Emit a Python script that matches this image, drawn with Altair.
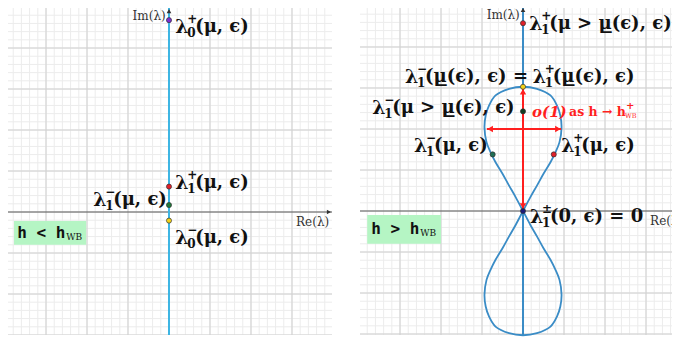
import altair as alt
import pandas as pd

# ---------------- data ----------------
# grid lines (complex plane units)
grid_minor_x = [round(-4 + 0.2 * i, 2) for i in range(41)]
grid_minor_y = [round(-3.2 + 0.2 * i, 2) for i in range(42)]
grid_major_x = [-4, -3, -2, -1, 1, 2, 3, 4]
grid_major_y = [-3, -2, -1, 1, 2, 3, 4, 5]

# left panel: eigenvalues on the imaginary axis (h < h_WB)
left_pt_y = [4.68, 0.62, 0.17, -0.21]
left_pt_color = ["#7b2fd0", "#e0202a", "#1f7a3a", "#f2d21a"]

left_lab_x = [0.15, 0.15, -1.85, 0.15]
left_lab_y = [4.51, 0.71, 0.29, -0.63]
left_lab_sub = ["0", "1", "1", "0"]
left_lab_sup = ["+", "+", "−", "−"]
left_lab_rest = ["(μ, ϵ)", "(μ, ϵ)", "(μ, ϵ)", "(μ, ϵ)"]

# right panel: figure-eight curve (h > h_WB), traced in order
curve_x = [0, 0.18, 0.34, 0.50, 0.67, 0.79, 0.89, 0.94, 0.91, 0.83, 0.67, 0.34, 0,
           -0.34, -0.67, -0.83, -0.91, -0.94, -0.89, -0.79, -0.67, -0.50, -0.34, -0.18, 0,
           0.18, 0.34, 0.50, 0.67, 0.79, 0.89, 0.94, 0.91, 0.83, 0.67, 0.34, 0,
           -0.34, -0.67, -0.83, -0.91, -0.94, -0.89, -0.79, -0.67, -0.50, -0.34, -0.18, 0]
curve_y = [0, 0.34, 0.62, 0.91, 1.19, 1.43, 1.68, 2.04, 2.33, 2.57, 2.82, 2.98, 3.03,
           2.98, 2.82, 2.57, 2.33, 2.04, 1.68, 1.43, 1.19, 0.91, 0.62, 0.34, 0,
           -0.34, -0.62, -0.91, -1.19, -1.43, -1.68, -2.04, -2.33, -2.57, -2.82, -2.98, -3.03,
           -2.98, -2.82, -2.57, -2.33, -2.04, -1.68, -1.43, -1.19, -0.91, -0.62, -0.34, 0]

right_pt_x = [0, 0, 0, 0.75, -0.74, 0]
right_pt_y = [4.58, 3.03, 2.43, 1.38, 1.38, 0]
right_pt_color = ["#e0202a", "#f2d21a", "#143d24", "#e0202a", "#1f6e55", "#1a1a7a"]

right_lab_x = [0.15, -2.88, 0.24, -3.68, -2.66, 0.93, 0.17]
right_lab_y = [4.56, 3.27, 3.27, 2.51, 1.59, 1.59, -0.15]
right_lab_sub = ["1", "1", "1", "1", "1", "1", "1"]
right_lab_sup = ["+", "−", "+", "−", "−", "+", "±"]
right_lab_rest = ["(μ > μ̲(ϵ), ϵ)", "(μ̲(ϵ), ϵ) =", "(μ̲(ϵ), ϵ)", "(μ > μ̲(ϵ), ϵ)",
                  "(μ, ϵ)", "(μ, ϵ)", "(0, ϵ) = 0"]

# red o(1) arrows
arrow_v = [0, 3.03]
arrow_h = [-0.88, 0.93]
arrow_h_y = 2.0

# ---------------- styling ----------------
SERIF = "DejaVu Serif"
AXIS_BLUE_L = "#3db5e3"
AXIS_BLUE_R = "#3a8cc6"
RED = "#ff1f1f"


def enc(dom_x, dom_y):
    sx = alt.Scale(domain=dom_x, nice=False, zero=False)
    sy = alt.Scale(domain=dom_y, nice=False, zero=False)
    return sx, sy


def grid_layers(sx, sy):
    out = []
    out.append(alt.Chart(pd.DataFrame({"v": grid_minor_x})).mark_rule(
        color="#ececec", strokeWidth=1, clip=True).encode(x=alt.X("v:Q", scale=sx, axis=None)))
    out.append(alt.Chart(pd.DataFrame({"v": grid_minor_y})).mark_rule(
        color="#ececec", strokeWidth=1, clip=True).encode(y=alt.Y("v:Q", scale=sy, axis=None)))
    out.append(alt.Chart(pd.DataFrame({"v": grid_major_x})).mark_rule(
        color="#d0d0d0", strokeWidth=1, clip=True).encode(x=alt.X("v:Q", scale=sx, axis=None)))
    out.append(alt.Chart(pd.DataFrame({"v": grid_major_y})).mark_rule(
        color="#d0d0d0", strokeWidth=1, clip=True).encode(y=alt.Y("v:Q", scale=sy, axis=None)))
    return out


def axes_layers(sx, sy, vcolor, xmax, ymax, re_x):
    out = []
    out.append(alt.Chart(pd.DataFrame({"v": [0]})).mark_rule(
        color="#555555", strokeWidth=1, clip=True).encode(y=alt.Y("v:Q", scale=sy, axis=None)))
    out.append(alt.Chart(pd.DataFrame({"v": [0]})).mark_rule(
        color=vcolor, strokeWidth=2, clip=True).encode(x=alt.X("v:Q", scale=sx, axis=None)))
    out.append(alt.Chart(pd.DataFrame({"x": [xmax], "y": [0]})).mark_point(
        shape="triangle-right", filled=True, color="#333333", size=22, opacity=1, clip=True).encode(
        x=alt.X("x:Q", scale=sx, axis=None), y=alt.Y("y:Q", scale=sy, axis=None)))
    out.append(alt.Chart(pd.DataFrame({"x": [0], "y": [ymax]})).mark_point(
        shape="triangle-up", filled=True, color="#333333", size=22, opacity=1, clip=True).encode(
        x=alt.X("x:Q", scale=sx, axis=None), y=alt.Y("y:Q", scale=sy, axis=None)))
    out.append(alt.Chart(pd.DataFrame({"x": [-0.08], "y": [ymax - 0.12], "t": ["Im(λ)"]})).mark_text(
        font=SERIF, fontSize=12, color="#333333", align="right", baseline="middle", clip=True).encode(
        x=alt.X("x:Q", scale=sx, axis=None), y=alt.Y("y:Q", scale=sy, axis=None), text="t:N"))
    out.append(alt.Chart(pd.DataFrame({"x": [re_x], "y": [-0.25], "t": ["Re(λ)"]})).mark_text(
        font=SERIF, fontSize=12, color="#333333", align="left", baseline="middle", clip=True).encode(
        x=alt.X("x:Q", scale=sx, axis=None), y=alt.Y("y:Q", scale=sy, axis=None), text="t:N"))
    return out


def label_layers(sx, sy, xs, ys, subs, sups, rests):
    df = pd.DataFrame({"x": xs, "y": ys, "sub": subs, "sup": sups, "rest": rests, "lam": ["λ"] * len(xs)})
    base = alt.Chart(df).encode(x=alt.X("x:Q", scale=sx, axis=None), y=alt.Y("y:Q", scale=sy, axis=None))
    out = [
        base.mark_text(font=SERIF, fontWeight="bold", fontSize=19, align="left", baseline="middle",
                       color="#111111", clip=True).encode(text="lam:N"),
        base.mark_text(font=SERIF, fontWeight="bold", fontSize=12, align="left", baseline="middle",
                       dx=12, dy=6, color="#111111", clip=True).encode(text="sub:N"),
        base.mark_text(font=SERIF, fontWeight="bold", fontSize=12, align="left", baseline="middle",
                       dx=12, dy=-8, color="#111111", clip=True).encode(text="sup:N"),
        base.mark_text(font=SERIF, fontWeight="bold", fontSize=18, align="left", baseline="middle",
                       dx=20, color="#111111", clip=True).encode(text="rest:N"),
    ]
    return out


def dots_layer(sx, sy, xs, ys, cols):
    df = pd.DataFrame({"x": xs, "y": ys, "c": cols})
    return alt.Chart(df).mark_point(filled=True, size=26, opacity=1, stroke="#333333", strokeWidth=0.7).encode(
        x=alt.X("x:Q", scale=sx, axis=None), y=alt.Y("y:Q", scale=sy, axis=None),
        fill=alt.Fill("c:N", scale=None))


def box_layers(sx, sy, x1, x2, y1, y2, tx, ty, sym):
    out = []
    out.append(alt.Chart(pd.DataFrame({"x": [x1], "x2": [x2], "y": [y1], "y2": [y2]})).mark_rect(
        color="#b5f5c4").encode(x=alt.X("x:Q", scale=sx, axis=None), x2="x2:Q",
                                y=alt.Y("y:Q", scale=sy, axis=None), y2="y2:Q"))
    out.append(alt.Chart(pd.DataFrame({"x": [tx], "y": [ty], "t": ["h " + sym + " h"]})).mark_text(
        font="DejaVu Sans Mono", fontWeight="bold", fontSize=16, align="left", baseline="middle",
        color="#111111").encode(x=alt.X("x:Q", scale=sx, axis=None), y=alt.Y("y:Q", scale=sy, axis=None),
                                text="t:N"))
    out.append(alt.Chart(pd.DataFrame({"x": [tx], "y": [ty], "t": ["WB"]})).mark_text(
        font=SERIF, fontSize=9, align="left", baseline="middle", dx=49, dy=4,
        color="#111111").encode(x=alt.X("x:Q", scale=sx, axis=None), y=alt.Y("y:Q", scale=sy, axis=None),
                                text="t:N"))
    return out


# ---------------- left panel ----------------
LW, LH = 324, 327
lsx, lsy = enc([-3.927, 3.976], [-3.0, 4.976])
left_layers = grid_layers(lsx, lsy) + axes_layers(lsx, lsy, AXIS_BLUE_L, 3.9, 4.9, 3.1)
left_layers += box_layers(lsx, lsy, -3.78, -2.02, -0.22, -0.80, -3.70, -0.51, "<")
left_layers.append(dots_layer(lsx, lsy, [0, 0, 0, 0], left_pt_y, left_pt_color))
left_layers += label_layers(lsx, lsy, left_lab_x, left_lab_y, left_lab_sub, left_lab_sup, left_lab_rest)
left = alt.layer(*left_layers).properties(width=LW, height=LH)

# ---------------- right panel ----------------
RW, RH = 312, 327
rsx, rsy = enc([-3.976, 3.634], [-3.024, 4.951])
right_layers = grid_layers(rsx, rsy) + axes_layers(rsx, rsy, AXIS_BLUE_R, 3.9, 4.9, 3.1)
right_layers += box_layers(rsx, rsy, -3.80, -2.0, -0.10, -0.80, -3.70, -0.45, ">")

curve_df = pd.DataFrame({"x": curve_x, "y": curve_y, "o": list(range(len(curve_x)))})
right_layers.append(alt.Chart(curve_df).mark_line(color=AXIS_BLUE_R, strokeWidth=1.8,
                                                  interpolate="catmull-rom").encode(
    x=alt.X("x:Q", scale=rsx, axis=None), y=alt.Y("y:Q", scale=rsy, axis=None), order="o:Q"))

# red arrows
right_layers.append(alt.Chart(pd.DataFrame({"y": [arrow_v[0]], "y2": [arrow_v[1]], "x": [0]})).mark_rule(
    color=RED, strokeWidth=2).encode(x=alt.X("x:Q", scale=rsx, axis=None),
                                     y=alt.Y("y:Q", scale=rsy, axis=None), y2="y2:Q"))
right_layers.append(alt.Chart(pd.DataFrame({"x": [arrow_h[0]], "x2": [arrow_h[1]], "y": [arrow_h_y]})).mark_rule(
    color=RED, strokeWidth=2).encode(x=alt.X("x:Q", scale=rsx, axis=None), x2="x2:Q",
                                     y=alt.Y("y:Q", scale=rsy, axis=None)))
heads = pd.DataFrame({
    "x": [0, 0, arrow_h[0] + 0.08, arrow_h[1] - 0.08],
    "y": [arrow_v[0] + 0.12, arrow_v[1] - 0.12, arrow_h_y, arrow_h_y],
    "s": ["triangle-down", "triangle-up", "triangle-left", "triangle-right"],
})
right_layers.append(alt.Chart(heads).mark_point(filled=True, color=RED, size=40, opacity=1).encode(
    x=alt.X("x:Q", scale=rsx, axis=None), y=alt.Y("y:Q", scale=rsy, axis=None),
    shape=alt.Shape("s:N", scale=None)))

right_layers.append(dots_layer(rsx, rsy, right_pt_x, right_pt_y, right_pt_color))
right_layers += label_layers(rsx, rsy, right_lab_x, right_lab_y, right_lab_sub, right_lab_sup, right_lab_rest)

# red annotation o(1) as h -> h_WB^+
red_df = pd.DataFrame({"x": [0.22], "y": [2.41]})
rb = alt.Chart(red_df).encode(x=alt.X("x:Q", scale=rsx, axis=None), y=alt.Y("y:Q", scale=rsy, axis=None))
right_layers += [
    rb.mark_text(text="o(1)", font=SERIF, fontStyle="italic", fontWeight="bold", fontSize=15,
                 color=RED, align="left", baseline="middle"),
    rb.mark_text(text="as h → h", font=SERIF, fontWeight="bold", fontSize=12.5,
                 color=RED, align="left", baseline="middle", dx=37),
    rb.mark_text(text="WB", font=SERIF, fontSize=6.5, color=RED, align="left", baseline="middle",
                 dx=93, dy=4),
    rb.mark_text(text="+", font=SERIF, fontWeight="bold", fontSize=10, color=RED, align="left",
                 baseline="middle", dx=94, dy=-6),
]
right = alt.layer(*right_layers).properties(width=RW, height=RH)

chart = alt.hconcat(left, right, spacing=28, bounds="flush").properties(padding=0).configure_view(stroke=None)
chart.save("out.html", embed_options={"renderer": "svg", "actions": False})
